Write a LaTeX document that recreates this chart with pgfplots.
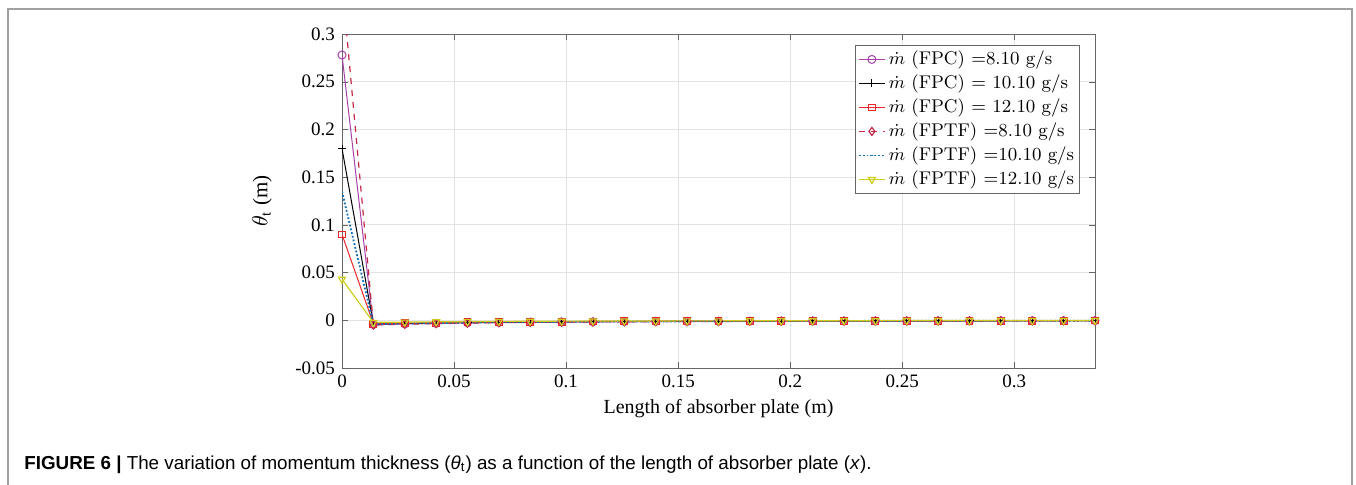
\documentclass[border=0pt]{standalone}
\usepackage{pgfplots}
\pgfplotsset{compat=1.18}
\usepackage{pgfplotstable}
\usepackage{fontspec}
\setmainfont{Liberation Serif}
\newfontfamily\capfont{Liberation Sans}
\newfontfamily\lmfont{Latin Modern Roman}

\definecolor{cPurple}{RGB}{168,64,170}
\definecolor{cRed}{RGB}{235,40,40}
\definecolor{cCrim}{RGB}{196,40,72}
\definecolor{cBlue}{RGB}{20,110,180}
\definecolor{cYel}{RGB}{205,205,30}

% x, FPC 8.10, FPC 10.10, FPC 12.10, FPTF 8.10, FPTF 10.10, FPTF 12.10
\pgfplotstableread{
x      a        b        c        d        e        f
0.000  0.278    0.180    0.090    0.354    0.135    0.043
0.014 -0.0045  -0.0040  -0.0036  -0.0050  -0.0041  -0.0022
0.028 -0.0038  -0.0034  -0.0030  -0.0042  -0.0034  -0.0019
0.042 -0.0032  -0.0029  -0.0026  -0.0035  -0.0029  -0.0016
0.056 -0.0027  -0.0024  -0.0022  -0.0030  -0.0024  -0.0014
0.070 -0.0023  -0.0021  -0.0018  -0.0025  -0.0021  -0.0012
0.084 -0.0020  -0.0018  -0.0016  -0.0022  -0.0018  -0.0010
0.098 -0.0018  -0.0016  -0.0014  -0.0020  -0.0016  -0.0009
0.112 -0.0016  -0.0014  -0.0013  -0.0018  -0.0014  -0.0008
0.126 -0.0014  -0.0013  -0.0011  -0.0015  -0.0013  -0.0007
0.140 -0.0013  -0.0012  -0.0010  -0.0014  -0.0012  -0.0007
0.154 -0.0012  -0.0011  -0.0010  -0.0013  -0.0011  -0.0006
0.168 -0.0011  -0.0010  -0.0009  -0.0012  -0.0010  -0.0006
0.182 -0.0010  -0.0009  -0.0008  -0.0011  -0.0009  -0.0005
0.196 -0.0009  -0.0008  -0.0007  -0.0010  -0.0008  -0.0005
0.210 -0.0008  -0.0007  -0.0006  -0.0009  -0.0007  -0.0004
0.224 -0.0008  -0.0007  -0.0006  -0.0009  -0.0007  -0.0004
0.238 -0.0007  -0.0006  -0.0006  -0.0008  -0.0006  -0.0004
0.252 -0.0007  -0.0006  -0.0006  -0.0008  -0.0006  -0.0003
0.266 -0.0006  -0.0005  -0.0005  -0.0007  -0.0005  -0.0003
0.280 -0.0006  -0.0005  -0.0005  -0.0007  -0.0005  -0.0003
0.294 -0.0005  -0.0005  -0.0004  -0.0006  -0.0005  -0.0003
0.308 -0.0005  -0.0004  -0.0004  -0.0006  -0.0004  -0.0002
0.322 -0.0005  -0.0004  -0.0004  -0.0005  -0.0004  -0.0002
0.336 -0.0004  -0.0004  -0.0003  -0.0005  -0.0004  -0.0002
}\datatable

\begin{document}
\begin{tikzpicture}
\path[use as bounding box] (0,0) rectangle (678pt,242pt);
\draw[gray!75, line width=0.9pt] (4pt,-1pt) -- (4pt,237.5pt) -- (676pt,237.5pt) -- (676pt,-1pt);

\begin{axis}[
  at={(171pt,58pt)}, anchor=south west,
  scale only axis, width=376.5pt, height=167pt,
  xmin=0, xmax=0.336, ymin=-0.05, ymax=0.3,
  xtick={0,0.05,0.1,0.15,0.2,0.25,0.3},
  xticklabels={0,0.05,0.1,0.15,0.2,0.25,0.3},
  ytick={-0.05,0,0.05,0.1,0.15,0.2,0.25,0.3},
  yticklabels={-0.05,0,0.05,0.1,0.15,0.2,0.25,0.3},
  tick align=inside, major tick length=3pt,
  tick style={gray!80!black},
  axis line style={gray!80!black},
  grid=major, major grid style={gray!22, line width=0.5pt},
  ticklabel style={font=\fontsize{9.5}{11}\selectfont},
  xlabel={Length of absorber plate (m)},
  xlabel style={font=\fontsize{10}{12}\selectfont, at={(axis description cs:0.5,-0.123)}, anchor=center},
  ylabel={$\theta_{\mathrm{t}}$ (m)},
  ylabel style={font=\fontsize{10.5}{12}\selectfont, at={(axis description cs:-0.1062,0.5)}, anchor=center},
  legend style={at={(0.98,0.967)}, anchor=north east, draw=gray!80!black, fill=white,
    font=\lmfont\fontsize{9.2}{10.5}\selectfont, row sep=0.4pt, inner sep=1.2pt,
    nodes={inner xsep=1.5pt, inner ysep=1.6pt}},
  legend cell align=left,
  legend image code/.code={
    \draw[mark repeat=2, mark phase=2] plot coordinates {(0pt,0pt) (6.5pt,0pt) (13pt,0pt)};},
  mark size=2pt,
  clip=true,
]
\addplot[cPurple, line width=0.5pt, mark=o, mark options={solid}] table[x=x,y=a] {\datatable};
\addlegendentry{$\dot{m}$ (FPC) =8.10 g/s}
\addplot[black, line width=0.5pt, mark=+, mark options={solid}] table[x=x,y=b] {\datatable};
\addlegendentry{$\dot{m}$ (FPC) = 10.10 g/s}
\addplot[cRed, line width=0.5pt, mark=square, mark size=1.7pt, mark options={solid}] table[x=x,y=c] {\datatable};
\addlegendentry{$\dot{m}$ (FPC) = 12.10 g/s}
\addplot[cCrim, line width=0.6pt, dashed, mark=diamond, mark options={solid}] table[x=x,y=d] {\datatable};
\addlegendentry{$\dot{m}$ (FPTF) =8.10 g/s}
\addplot[cBlue, line width=0.9pt, densely dotted] table[x=x,y=e] {\datatable};
\addlegendentry{$\dot{m}$ (FPTF) =10.10 g/s}
\addplot[cYel, line width=0.6pt, mark=triangle, mark options={solid, rotate=180}] table[x=x,y=f] {\datatable};
\addlegendentry{$\dot{m}$ (FPTF) =12.10 g/s}
\end{axis}

\node[anchor=base west, inner sep=0pt, font=\capfont\fontsize{9.4}{11}\selectfont] at (12pt,7.5pt)
  {\textbf{FIGURE 6 |} The variation of momentum thickness (\textit{θ}\textsubscript{t}) as a function of the length of absorber plate (\textit{x}).};
\end{tikzpicture}
\end{document}
